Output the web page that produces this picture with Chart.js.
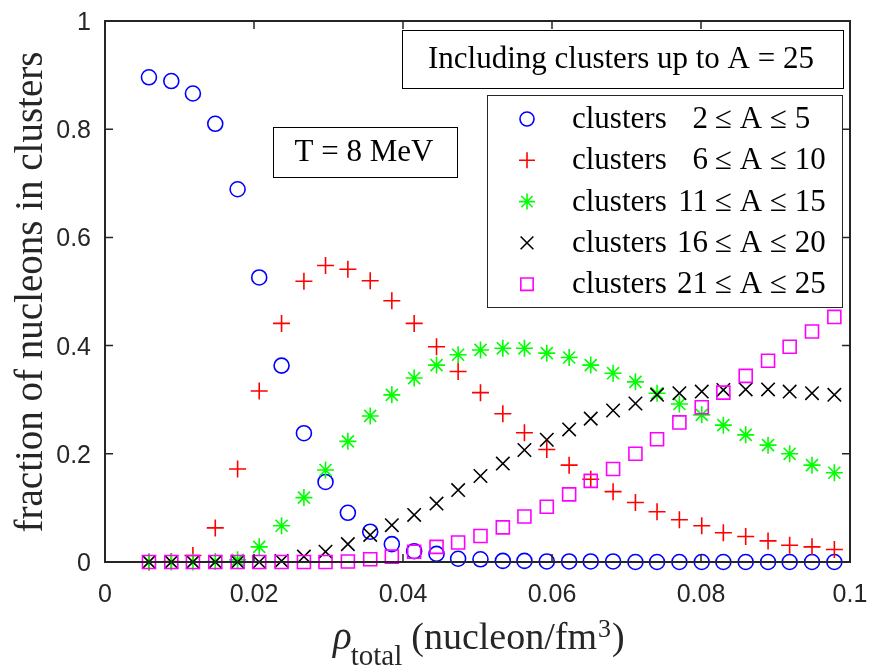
<!DOCTYPE html>
<html>
<head>
<meta charset="utf-8">
<script src="https://cdn.jsdelivr.net/npm/chart.js@4.4.0/dist/chart.umd.min.js"></script>
<style>
  body { margin: 0; background: #fff; }
  #wrap { width: 876px; height: 668px; position: relative; }
</style>
</head>
<body>
<div id="wrap"><canvas id="chart"></canvas></div>
<script>
// total density (nucleon/fm^3)
const rho = [0.0059, 0.0089, 0.0118, 0.0148, 0.0178, 0.0207, 0.0237, 0.0267,
  0.0296, 0.0326, 0.0356, 0.0385, 0.0415, 0.0445, 0.0474, 0.0504,
  0.0534, 0.0563, 0.0593, 0.0623, 0.0652, 0.0682, 0.0712, 0.0741,
  0.0771, 0.0801, 0.0830, 0.0860, 0.0890, 0.0919, 0.0949, 0.0979];

// fraction of nucleons bound in each cluster group
const frac2to5 = [0.896, 0.889, 0.866, 0.810, 0.689, 0.526, 0.363, 0.238,
  0.148, 0.091, 0.056, 0.033, 0.020, 0.015, 0.006, 0.005,
  0.002, 0.002, 0.001, 0.001, 0.001, 0.001, 0, 0,
  0, 0, 0, 0, 0, 0, 0, 0];
const frac6to10 = [0, 0.001, 0.012, 0.063, 0.172, 0.316, 0.441, 0.519,
  0.548, 0.541, 0.520, 0.483, 0.441, 0.398, 0.352, 0.313,
  0.274, 0.239, 0.208, 0.179, 0.153, 0.130, 0.110, 0.093,
  0.078, 0.067, 0.054, 0.047, 0.039, 0.031, 0.028, 0.023];
const frac11to15 = [0, 0, 0, 0.001, 0.004, 0.028, 0.067, 0.119,
  0.170, 0.223, 0.270, 0.309, 0.340, 0.364, 0.383, 0.392,
  0.395, 0.395, 0.386, 0.378, 0.364, 0.349, 0.333, 0.312,
  0.292, 0.272, 0.253, 0.235, 0.216, 0.200, 0.179, 0.165];
const frac16to20 = [0, 0, 0, 0, 0, 0, 0.002, 0.010,
  0.019, 0.033, 0.050, 0.068, 0.087, 0.108, 0.133, 0.159,
  0.182, 0.207, 0.226, 0.245, 0.265, 0.280, 0.293, 0.309,
  0.312, 0.315, 0.318, 0.319, 0.319, 0.315, 0.312, 0.309];
const frac21to25 = [0, 0, 0, 0, 0, 0, 0, 0,
  0, 0.001, 0.005, 0.010, 0.019, 0.028, 0.036, 0.048,
  0.064, 0.084, 0.102, 0.125, 0.150, 0.172, 0.200, 0.227,
  0.258, 0.286, 0.313, 0.344, 0.372, 0.398, 0.426, 0.453];

const groupRanges = [['2', '5'], ['6', '10'], ['11', '15'], ['16', '20'], ['21', '25']];
const xTicks = [0, 0.02, 0.04, 0.06, 0.08, 0.1];
const yTicks = [0, 0.2, 0.4, 0.6, 0.8, 1];

const SERIF = "'Liberation Serif', 'Times New Roman', serif";
const SANS = "'Liberation Sans', Arial, sans-serif";
const AX = '#262626';

const series = [
  { data: frac2to5, color: '#0000ff', style: 'circle', r: 7.5 },
  { data: frac6to10, color: '#ff0000', style: 'cross', r: 8.5 },
  { data: frac11to15, color: '#00ff00', style: 'star', r: 8.5 },
  { data: frac16to20, color: '#000000', style: 'crossRot', r: 9.5 },
  { data: frac21to25, color: '#ff00ff', style: 'rect', r: 9.2 }
];

const datasets = series.map((s, i) => ({
  label: 'clusters ' + groupRanges[i][0] + ' ≤ A ≤ ' + groupRanges[i][1],
  data: rho.map((x, j) => ({ x, y: s.data[j] })),
  showLine: false,
  pointStyle: s.style,
  pointRadius: s.r,
  pointHoverRadius: s.r,
  pointBorderColor: s.color,
  pointBackgroundColor: 'rgba(0,0,0,0)',
  pointBorderWidth: 1.6,
  clip: false,
  order: 4 - i
}));

// box, inward ticks, tick labels, text boxes, legend and axis titles
const decor = {
  id: 'decor',
  afterDraw(chart) {
    const { ctx, chartArea: a, scales } = chart;
    ctx.save();
    ctx.strokeStyle = AX;
    ctx.lineWidth = 2;
    ctx.strokeRect(a.left, a.top, a.right - a.left, a.bottom - a.top);
    ctx.lineWidth = 1.5;
    ctx.beginPath();
    xTicks.forEach(v => {
      const px = scales.x.getPixelForValue(v);
      ctx.moveTo(px, a.bottom); ctx.lineTo(px, a.bottom - 8);
      ctx.moveTo(px, a.top); ctx.lineTo(px, a.top + 8);
    });
    yTicks.forEach(v => {
      const py = scales.y.getPixelForValue(v);
      ctx.moveTo(a.left, py); ctx.lineTo(a.left + 8, py);
      ctx.moveTo(a.right, py); ctx.lineTo(a.right - 8, py);
    });
    ctx.stroke();

    // tick labels
    ctx.fillStyle = AX;
    ctx.font = '25px ' + SANS;
    ctx.textBaseline = 'alphabetic';
    ctx.textAlign = 'center';
    xTicks.forEach(v => ctx.fillText(String(v), scales.x.getPixelForValue(v), a.bottom + 40));
    ctx.textAlign = 'right';
    yTicks.forEach(v => ctx.fillText(String(v), a.left - 14, scales.y.getPixelForValue(v) + 9));

    // text boxes
    ctx.fillStyle = '#fff';
    ctx.strokeStyle = '#000';
    ctx.lineWidth = 1;
    ctx.fillRect(402, 30, 441, 58);
    ctx.strokeRect(402.5, 30.5, 441, 58);
    ctx.fillRect(273, 127, 184, 50);
    ctx.strokeRect(273.5, 127.5, 184, 50);
    ctx.fillStyle = '#000';
    ctx.font = '31px ' + SERIF;
    ctx.textAlign = 'center';
    ctx.textBaseline = 'middle';
    ctx.fillText('Including clusters up to A = 25', 621, 60);
    ctx.fillText('T = 8 MeV', 364, 153);

    // legend
    ctx.fillStyle = '#fff';
    ctx.fillRect(487, 95, 355, 212);
    ctx.strokeStyle = AX;
    ctx.strokeRect(487.5, 95.5, 355, 212);
    series.forEach((s, i) => {
      const y = 119 + i * 41.3;
      ctx.strokeStyle = s.color;
      ctx.fillStyle = 'rgba(0,0,0,0)';
      ctx.lineWidth = 1.6;
      Chart.helpers.drawPoint(ctx, { pointStyle: s.style, radius: s.r - 0.5, rotation: 0, borderWidth: 1.6 }, 527, y);
      ctx.fillStyle = '#000';
      ctx.font = '31px ' + SERIF;
      ctx.textBaseline = 'middle';
      ctx.textAlign = 'left';
      ctx.fillText('clusters', 572, y + 1);
      ctx.textAlign = 'right';
      ctx.fillText(groupRanges[i][0], 708, y + 1);
      ctx.textAlign = 'left';
      ctx.fillText('≤ A ≤ ' + groupRanges[i][1], 715, y + 1);
    });

    // y title
    ctx.save();
    ctx.translate(42, 292);
    ctx.rotate(-Math.PI / 2);
    ctx.textAlign = 'center';
    ctx.textBaseline = 'alphabetic';
    ctx.fillStyle = AX;
    ctx.font = '39px ' + SERIF;
    ctx.fillText('fraction of nucleons in clusters', 0, 0);
    ctx.restore();

    // x title: rho_total (nucleon/fm^3)
    ctx.fillStyle = AX;
    ctx.textAlign = 'left';
    ctx.textBaseline = 'alphabetic';
    let x = 333;
    const base = 649;
    ctx.font = 'italic 39px ' + SERIF;
    ctx.fillText('ρ', x, base);
    x += ctx.measureText('ρ').width - 1;
    ctx.font = '29px ' + SERIF;
    ctx.fillText('total', x, base + 16);
    x += ctx.measureText('total').width + 9;
    ctx.font = '38px ' + SERIF;
    ctx.fillText('(nucleon/fm', x, base);
    x += ctx.measureText('(nucleon/fm').width;
    ctx.font = '26px ' + SERIF;
    ctx.fillText('3', x + 1, base - 12);
    x += ctx.measureText('3').width + 2;
    ctx.font = '38px ' + SERIF;
    ctx.fillText(')', x, base);
    ctx.restore();
  }
};

new Chart(document.getElementById('chart'), {
  type: 'scatter',
  data: { datasets },
  options: {
    responsive: true,
    maintainAspectRatio: false,
    animation: false,
    events: [],
    layout: { padding: { top: 21, right: 26, left: 0, bottom: 0 } },
    plugins: { legend: { display: false }, tooltip: { enabled: false } },
    scales: {
      x: {
        type: 'linear', min: 0, max: 0.1,
        afterFit: s => { s.height = 106; },
        grid: { display: false, drawTicks: false },
        border: { display: false },
        ticks: { display: false, stepSize: 0.02 }
      },
      y: {
        type: 'linear', min: 0, max: 1,
        afterFit: s => { s.width = 105; },
        grid: { display: false, drawTicks: false },
        border: { display: false },
        ticks: { display: false, stepSize: 0.2 }
      }
    }
  },
  plugins: [decor]
});
</script>
</body>
</html>
